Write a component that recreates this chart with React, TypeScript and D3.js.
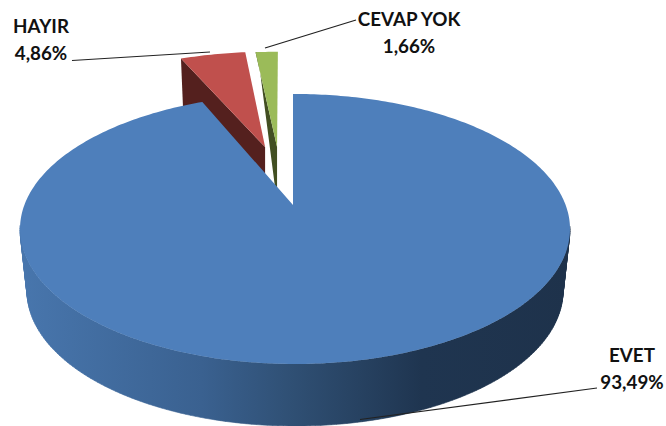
import React from "react";
import * as d3 from "d3";

const categories = ["EVET", "HAYIR", "CEVAP YOK"];
const shares = [93.49, 4.86, 1.66];
const shareLabels = ["93,49%", "4,86%", "1,66%"];
const topColors = ["#4E7FBB", "#C0504D", "#9BBB59"];
const sideColors = ["#4F81BD", "#54201E", "#424F22"];
// slice displacement on the pie's plane (unit-radius coordinates), x right, y away from viewer
const explodeX = [0, -0.128, -0.08];
const explodeY = [0, 0.481, 0.481];
// horizontal correction of each slice's tip, px
const apexShift = [-2, 2, 2];
// how far the outer corner of each cut face drops, in px
const rimDrop = [0, 48, 0];
const apexDrop = 56;

const W = 666, H = 426;
const cx = 295, cy = 229, rx = 275, ry = 135;
const cxB = 295, cyB = 291, rxB = 268, ryB = 135;
const persp = 0.178;

type P = [number, number];
// perspective mapping of the unit disc onto itself
function plane(x: number, y: number): P {
  const den = 1 + persp * y;
  return [(x * Math.sqrt(1 - persp * persp)) / den, (y + persp) / den];
}
const top = (x: number, y: number): P => {
  const [u, v] = plane(x, y);
  return [cx + rx * u, cy - ry * v];
};
const bottom = (x: number, y: number): P => {
  const [u, v] = plane(x, y);
  return [cxB + rxB * u, cyB - ryB * v];
};
const line = d3.line<P>();

const pieGen = d3.pie<number>().sort(null);
const arcs = pieGen(shares);

function rim(i: number, f: (x: number, y: number) => P): P[] {
  const a = arcs[i];
  const ex = explodeX[i], ey = explodeY[i];
  const n = Math.max(4, Math.ceil((a.endAngle - a.startAngle) * 60));
  return d3.range(n + 1).map((k) => {
    const t = a.startAngle + ((a.endAngle - a.startAngle) * k) / n;
    return f(Math.sin(t) + ex, Math.cos(t) + ey);
  });
}

function apexOf(i: number): P {
  const p = top(explodeX[i], explodeY[i]);
  return [p[0] + apexShift[i], p[1]];
}

function wallPath(): string {
  const t = rim(0, top), b = rim(0, bottom);
  let d = "";
  for (let k = 0; k < t.length - 1; k++) {
    if (t[k][1] < cy - 2 && t[k + 1][1] < cy - 2) continue;
    d += line([t[k], t[k + 1], b[k + 1], b[k]]) + "Z";
  }
  return d;
}

const leaders: [P, P][] = [
  [[597, 388], [360, 419.5]],
  [[72, 60.5], [210, 52]],
  [[356, 20], [265, 48]],
];
const labelSpots = [
  { x: 632, y: 362, px: 632, py: 389 },
  { x: 41, y: 33, px: 41, py: 60 },
  { x: 409, y: 26, px: 409, py: 53 },
];

export default function App() {
  const tops = arcs.map((_, i) => {
    const apex = apexOf(i);
    const r = rim(i, top);
    // the big slice keeps a vertical cut edge straight above its tip
    const lead: P[] = i === 0 ? [apex, [apex[0], r[0][1]]] : [apex];
    return (line([...lead, ...r]) as string) + "Z";
  });
  const sides = [1, 2].map((i) => {
    const apex = apexOf(i);
    const r = rim(i, top)[0];
    return {
      i,
      d:
        (line([r, apex, [apex[0], apex[1] + apexDrop], [r[0] + 2, r[1] + rimDrop[i]]]) as string) + "Z",
    };
  });
  return (
    <svg width={W} height={H} style={{ position: "absolute", left: 0, top: 0, background: "#fff" }}>
      <defs>
        <linearGradient id="wall" gradientUnits="userSpaceOnUse" x1={cx - rx} x2={cx + rx} y1={0} y2={0}>
          <stop offset="0" stopColor="#4876AD" />
          <stop offset="0.33" stopColor="#3A6190" />
          <stop offset="0.5" stopColor="#2F4F73" />
          <stop offset="0.73" stopColor="#1F3550" />
          <stop offset="1" stopColor="#1E324B" />
        </linearGradient>
      </defs>
      {sides.map((s) => (
        <path key={s.i} d={s.d} fill={sideColors[s.i]} />
      ))}
      {[1, 2].map((i) => (
        <path key={i} d={tops[i]} fill={topColors[i]} />
      ))}
      <path d={wallPath()} fill="url(#wall)" stroke="url(#wall)" strokeWidth={0.6} />
      <path d={tops[0]} fill={topColors[0]} />
      {leaders.map((l, i) => (
        <path key={i} d={line(l) as string} fill="none" stroke="#222" strokeWidth={1.2} />
      ))}
      {categories.map((c, i) => (
        <g key={c} fontFamily="Lato, 'Open Sans', sans-serif" fontWeight={700} fontSize={18.8} fill="#111" textAnchor="middle">
          <text x={labelSpots[i].x} y={labelSpots[i].y}>{c}</text>
          <text x={labelSpots[i].px} y={labelSpots[i].py}>{shareLabels[i]}</text>
        </g>
      ))}
    </svg>
  );
}
